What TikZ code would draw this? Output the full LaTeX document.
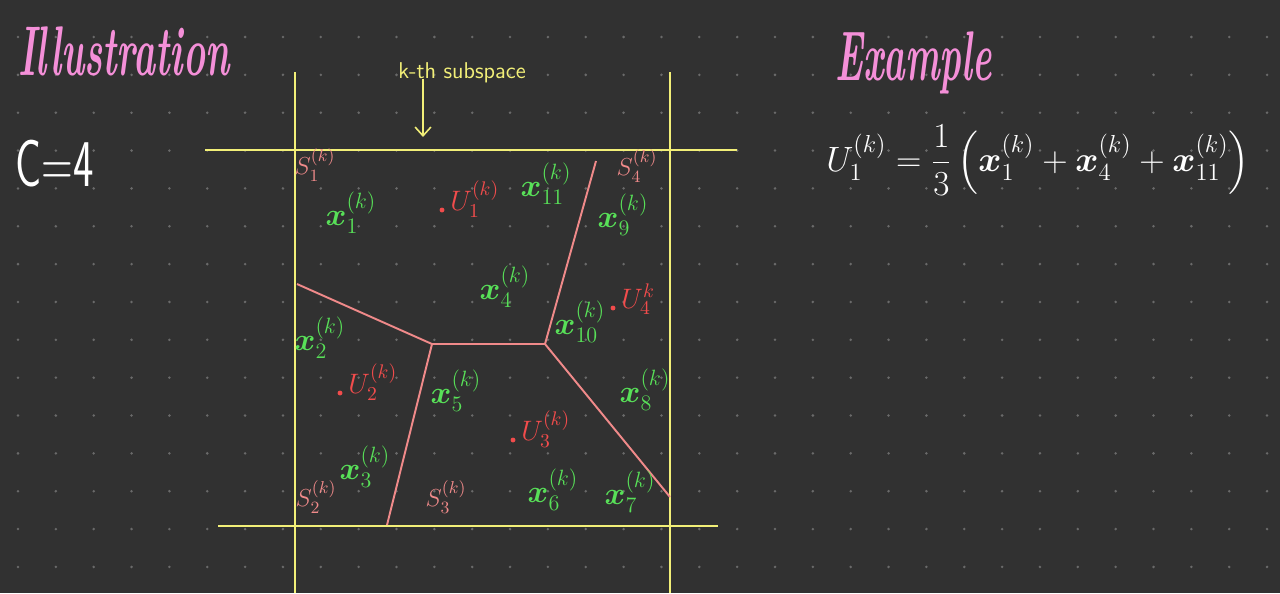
\documentclass[tikz,border=0pt]{standalone}
\usepackage{fix-cm}
\usepackage{amsmath}
\usepackage{amssymb}
\usepackage{fontspec}
\usepackage{tikz}
\usetikzlibrary{positioning, arrows.meta}
\definecolor{board}{HTML}{313131}
\definecolor{griddot}{HTML}{6A6A6A}
\definecolor{cyellow}{HTML}{F2EF78}
\definecolor{cgreen}{HTML}{58E058}
\definecolor{cred}{HTML}{F24C4C}
\definecolor{csalmon}{HTML}{F08A8A}
\definecolor{cpink}{HTML}{F48FD8}
\tikzstyle{title} = [text=cpink, font=\fontsize{40}{44}\selectfont\bfseries\itshape, inner sep=0pt]
\tikzstyle{axis} = [draw=cyellow, line width=1.6pt]
\tikzstyle{border} = [draw=csalmon, line width=1.1pt]
\tikzstyle{arrow} = [cyellow, line width=0.9pt, -{Straight Barb[length=5pt,width=9pt]}]
\tikzstyle{note} = [text=cyellow, font=\sffamily\fontsize{13}{15}\selectfont, inner sep=0pt]
\tikzstyle{pointlab} = [text=cgreen, font=\fontsize{18}{20}\selectfont, inner sep=0pt]
\tikzstyle{centroid} = [circle, fill=cred, inner sep=0pt, minimum size=2.8pt]
\tikzstyle{centlab} = [text=cred, font=\fontsize{16}{18}\selectfont, inner sep=0pt]
\tikzstyle{cell} = [text=csalmon, font=\fontsize{14}{16}\selectfont, inner sep=0pt]
\begin{document}
\begin{tikzpicture}[x=0.02cm, y=-0.02cm]
    \fill[board] (0,0) rectangle (1280,593);
    \useasboundingbox (0,0) rectangle (1280,593);
    \foreach \i in {0,...,33}
        \foreach \j in {0,...,14}
            \fill[griddot] (18+37.85*\i, 37+37.85*\j) circle (0.8pt);

    % headings
    \node[title, anchor=base west] (ill) at (18,75) {\scalebox{0.53}[1]{Illustration}};
    \node[anchor=base west, inner sep=0pt, text=white, font=\sffamily\fontsize{38}{40}\selectfont] (cnum) at (15,186) {\scalebox{0.65}[1]{C=4}};
    \node[title, anchor=base west] (ex) at (835,80) {\scalebox{0.52}[1]{Example}};

    % subspace frame
    \coordinate (vl top) at (295,72);
    \coordinate (vl bot) at (295,593);
    \coordinate (vr top) at (670,72);
    \coordinate (vr bot) at (670,593);
    \coordinate (ht l) at (205,150);
    \coordinate (ht r) at (737,150);
    \coordinate (hb l) at (218,526);
    \coordinate (hb r) at (718,526);
    \draw[axis] (vl top) -- (vl bot);
    \draw[axis] (vr top) -- (vr bot);
    \draw[axis] (ht l) -- (ht r);
    \draw[axis] (hb l) -- (hb r);

    \node[note] (sub) at (462,73) {k-th subspace};
    \coordinate (arr end) at (423,137);
    \draw[arrow] (sub.south -| arr end) ++(0,-5) -- (arr end);

    % cell borders
    \coordinate (jl) at (432,344);
    \coordinate (jr) at (545,344);
    \coordinate (el) at (297,284);
    \coordinate (et) at (596,161);
    \coordinate (er) at (670,497);
    \coordinate (eb) at (387,525);
    \draw[border] (el) -- (jl) -- (jr) -- (et);
    \draw[border] (jr) -- (er);
    \draw[border] (jl) -- (eb);

    % cells
    \node[cell] (s1) at (315,165) {$S_1^{(k)}$};
    \node[cell] (s4) at (637,166) {$S_4^{(k)}$};
    \node[cell] (s2) at (316,497) {$S_2^{(k)}$};
    \node[cell] (s3) at (446,497) {$S_3^{(k)}$};

    % points
    \node[pointlab] (x1) at (351,213) {$\boldsymbol{x}_{1}^{(k)}$};
    \node[pointlab] (x2) at (320,338) {$\boldsymbol{x}_{2}^{(k)}$};
    \node[pointlab] (x3) at (365,467) {$\boldsymbol{x}_{3}^{(k)}$};
    \node[pointlab] (x4) at (505,287) {$\boldsymbol{x}_{4}^{(k)}$};
    \node[pointlab] (x5) at (456,391) {$\boldsymbol{x}_{5}^{(k)}$};
    \node[pointlab] (x6) at (553,490) {$\boldsymbol{x}_{6}^{(k)}$};
    \node[pointlab] (x7) at (630,492) {$\boldsymbol{x}_{7}^{(k)}$};
    \node[pointlab] (x8) at (645,390) {$\boldsymbol{x}_{8}^{(k)}$};
    \node[pointlab] (x9) at (623,215) {$\boldsymbol{x}_{9}^{(k)}$};
    \node[pointlab] (x10) at (580,322) {$\boldsymbol{x}_{10}^{(k)}$};
    \node[pointlab] (x11) at (546,184) {$\boldsymbol{x}_{11}^{(k)}$};

    % centroids
    \node[centroid] (u1) at (442,210) {};
    \node[centroid] (u2) at (340,393) {};
    \node[centroid] (u3) at (513,440) {};
    \node[centroid] (u4) at (613,308) {};
    \node[centlab, mid right=3pt of u1] (ul1) {$U_1^{(k)}$};
    \node[centlab, mid right=3pt of u2] (ul2) {$U_2^{(k)}$};
    \node[centlab, mid right=3pt of u3] (ul3) {$U_3^{(k)}$};
    \node[centlab, mid right=3pt of u4] (ul4) {$U_4^{k}$};

    % example formula
    \node[anchor=west, inner sep=0pt, text=white, font=\fontsize{20}{24}\selectfont] (eq) at (826,160)
        {$\displaystyle U_1^{(k)} = \frac{1}{3}\left(\boldsymbol{x}_1^{(k)} + \boldsymbol{x}_4^{(k)} + \boldsymbol{x}_{11}^{(k)}\right)$};
\end{tikzpicture}
\end{document}
